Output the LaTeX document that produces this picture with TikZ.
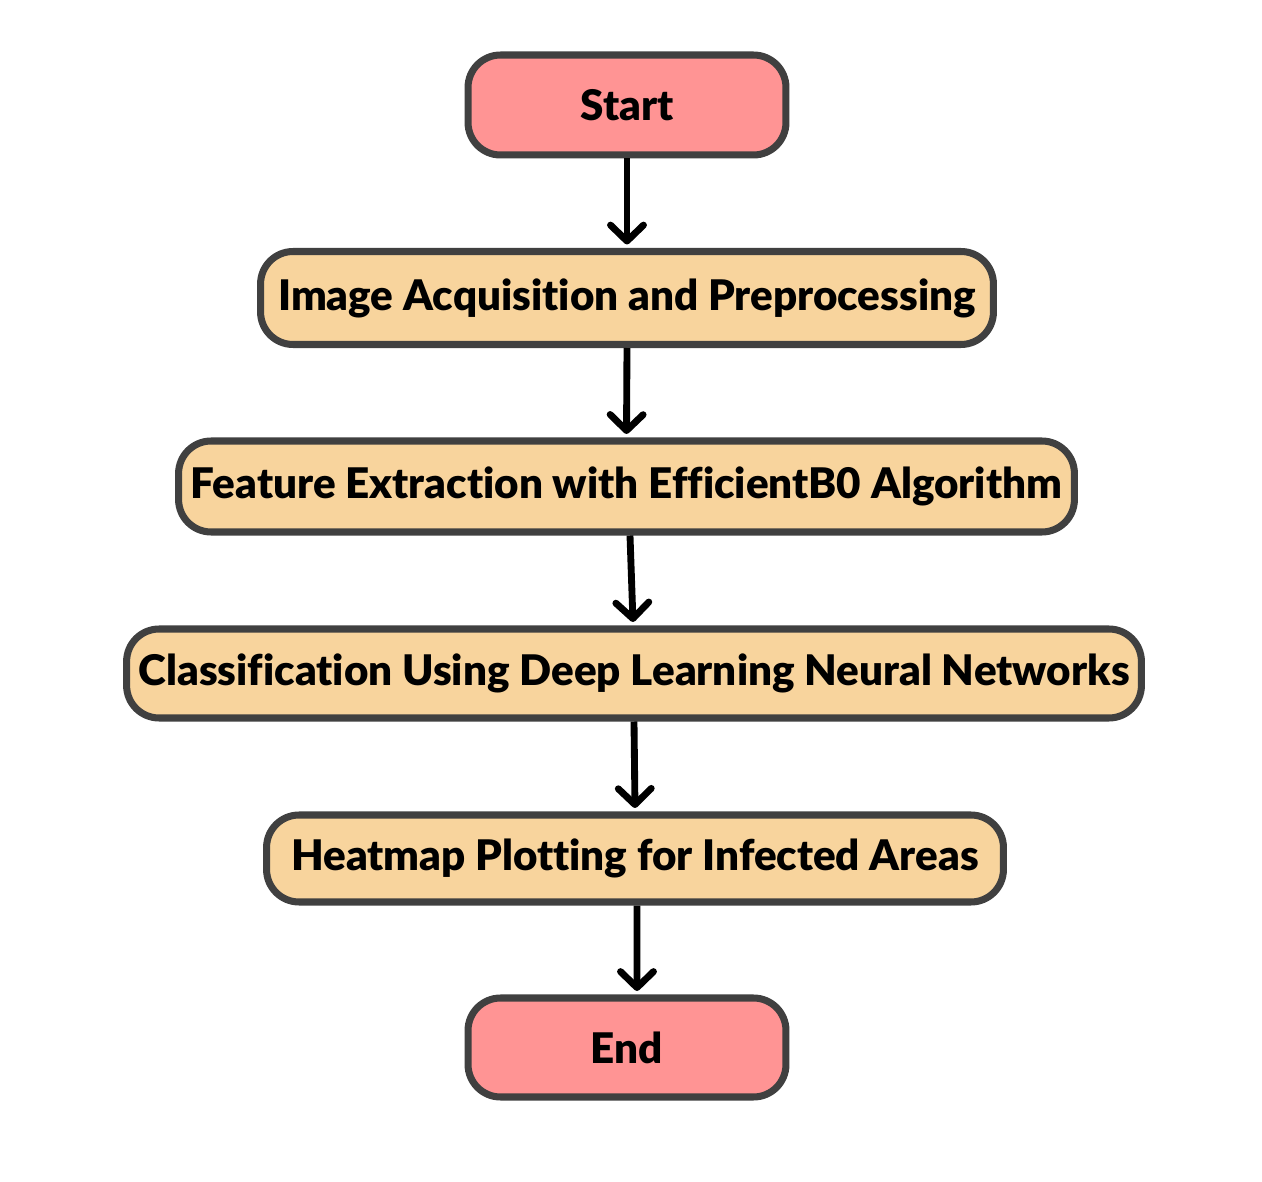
\documentclass[tikz,border=0pt]{standalone}
\usepackage{fontspec}
\IfFontExistsTF{Lato Black}
  {\newfontfamily\boxfont{Lato Black}[Ligatures=NoCommon]}
  {\newfontfamily\boxfont{Lato}[Ligatures=NoCommon,UprightFeatures={FakeBold=2}]}
\usetikzlibrary{arrows.meta}
\definecolor{termfill}{HTML}{FF9494}
\definecolor{procfill}{HTML}{F8D49D}
\definecolor{edgegray}{HTML}{404040}
\begin{document}
\begin{tikzpicture}[x=0.02cm,y=-0.02cm,
  box/.style={draw=edgegray, line width=4pt, rounded corners=0.65cm, align=center,
    font=\boxfont\fontsize{24}{28}\selectfont, text=black, inner sep=0pt},
  term/.style={box, fill=termfill},
  proc/.style={box, fill=procfill},
  flow/.style={line width=3.9pt, draw=black, -{Straight Barb[length=3.2mm,width=6.6mm,round]}}]
\fill[white] (0,0) rectangle (1262,1182);
\path[use as bounding box] (0,0) rectangle (1262,1182);
\node[term, minimum width=6.36cm, minimum height=2.0cm] (start) at (627,105) {Start};
\node[proc, minimum width=14.66cm, minimum height=1.86cm] (acq) at (627,298) {Image Acquisition and Preprocessing};
\node[proc, minimum width=17.92cm, minimum height=1.82cm] (feat) at (626.5,486.5) {Feature Extraction with EfficientB0 Algorithm};
\node[proc, minimum width=20.30cm, minimum height=1.78cm] (cls) at (634,673.5) {Classification Using Deep Learning Neural Networks};
\node[proc, minimum width=14.74cm, minimum height=1.74cm] (heat) at (635,858.5) {Heatmap Plotting for Infected Areas};
\node[term, minimum width=6.36cm, minimum height=1.98cm] (end) at (627,1047.5) {End};
\draw[flow] (start.south) -- ([yshift=0.07cm]acq.north);
\draw[flow] (acq.south) -- ([yshift=0.07cm]feat.north);
\draw[flow] ([xshift=0.07cm]feat.south) -- ([xshift=-0.02cm,yshift=0.07cm]cls.north);
\draw[flow] (cls.south) -- ([yshift=0.07cm]heat.north);
\draw[flow] ([xshift=0.04cm]heat.south) -- ([xshift=0.2cm,yshift=0.07cm]end.north);
\end{tikzpicture}
\end{document}
